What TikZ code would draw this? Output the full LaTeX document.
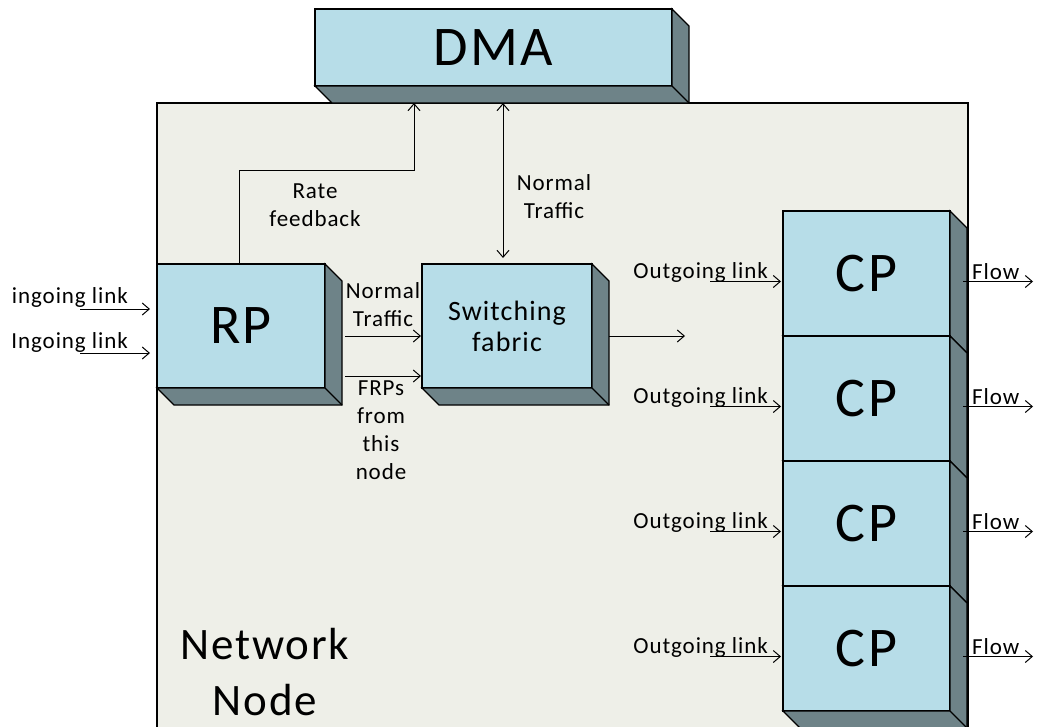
\documentclass[tikz,border=0pt]{standalone}
\usepackage{fontspec}
\setmainfont[LetterSpace=4]{Carlito}
\usetikzlibrary{arrows.meta, positioning, calc}

\definecolor{facecol}{HTML}{B7DDE8}
\definecolor{sidecol}{HTML}{6E8388}
\definecolor{nodebg}{HTML}{EEEFE8}

% bottom and right faces of a raised box
\newcommand{\boxdepth}[1]{%
  \filldraw[fill=sidecol, line width=1.1pt]
    (#1.south west) -- ++(17,17) -- ($(#1.south east)+(17,17)$)
    -- ($(#1.north east)+(17,17)$) -- (#1.north east) -- (#1.south east) -- cycle;
  \draw[line width=1.1pt] (#1.south east) -- ++(17,17);
}

\begin{document}
\begin{tikzpicture}[
    x=1pt, y=-1pt,
    box/.style={draw, fill=facecol, line width=1.1pt, inner sep=0pt, outer sep=0pt,
      font=\fontsize{56}{60}\selectfont},
    lbl/.style={inner sep=0pt, align=center, font=\fontsize{23}{28}\selectfont},
    arr/.style={-{Straight Barb[length=7pt,width=12pt]}, line width=1pt},
    dblarr/.style={{Straight Barb[length=7pt,width=12pt]}-{Straight Barb[length=7pt,width=12pt]}, line width=1pt}
    ]
    \useasboundingbox (0,0) rectangle (1038,726);

    % Nodes
    \node[draw, fill=nodebg, line width=1.1pt, inner sep=0pt, outer sep=0pt,
      minimum width=811pt, minimum height=660pt, anchor=north west] (netnode) at (157,103) {};
    \node[lbl, font=\fontsize{45}{56}\selectfont] (nnlbl) at (265,672) {Network\\Node};

    \node[box, minimum width=357pt, minimum height=77pt] (dma) at (493.5,47.5) {DMA};
    \boxdepth{dma}
    \node[box, minimum width=168pt, minimum height=124pt] (rp) at (241,326) {RP};
    \boxdepth{rp}
    \node[box, minimum width=170pt, minimum height=124pt, align=center,
      font=\fontsize{28}{31}\selectfont, right=97pt of rp] (sf) {Switching\\fabric};
    \boxdepth{sf}
    \foreach \i in {1,...,4} {
      \node[box, minimum width=167pt, minimum height=125pt] (cp\i) at (866.5,{148.5+125*\i}) {CP};
      \boxdepth{cp\i}
    }

    % Connections
    \coordinate (in1) at (80,309);
    \coordinate (in2) at (80,353);
    \draw[arr, shorten >=7pt] (in1) -- (in1 -| rp.west);
    \draw[arr, shorten >=7pt] (in2) -- (in2 -| rp.west);
    \node[lbl, anchor=base east] (inl1) at (128,303) {ingoing link};
    \node[lbl, anchor=base east] (inl2) at (128,348) {Ingoing link};

    \draw[arr, shorten >=1pt] ([shift={(20,10)}]rp.east) -- ([shift={(0,10)}]sf.west);
    \draw[arr, shorten >=1pt] ([shift={(20,50)}]rp.east) -- ([shift={(0,50)}]sf.west);
    \node[lbl] (ntlbl) at (383,305) {Normal\\Traffic};
    \node[lbl] (frplbl) at (381,430) {FRPs\\from\\this\\node};

    \coordinate (swout) at (685,336);
    \draw[arr] ([shift={(17,10)}]sf.east) -- (swout);

    \coordinate (rfin) at ([shift={(-79.5,17)}]dma.south);
    \draw[arr] ([xshift=-2pt]rp.north) -- ++(0,-94) -| (rfin);
    \node[lbl] (ratelbl) at (315,205) {Rate\\feedback};

    \coordinate (dmain) at ([shift={(9.5,17)}]dma.south);
    \draw[dblarr, shorten <=6pt] (dmain |- sf.north) -- (dmain);
    \node[lbl] (ntlbl2) at (554,197) {Normal\\Traffic};

    \foreach \i in {1,...,4} {
      \coordinate (og\i) at ([shift={(-73,8)}]cp\i.west);
      \draw[arr, shorten >=2pt] (og\i) -- (og\i -| cp\i.west);
      \node[lbl, anchor=base east] (ogl\i) at ([shift={(-15,5)}]cp\i.west) {Outgoing link};
      \coordinate (fl\i) at ([shift={(83,8)}]cp\i.east);
      \draw[arr] ([shift={(13,8)}]cp\i.east) -- (fl\i);
      \node[lbl, anchor=base west] (fll\i) at ([shift={(22,6)}]cp\i.east) {Flow};
    }

\end{tikzpicture}
\end{document}
